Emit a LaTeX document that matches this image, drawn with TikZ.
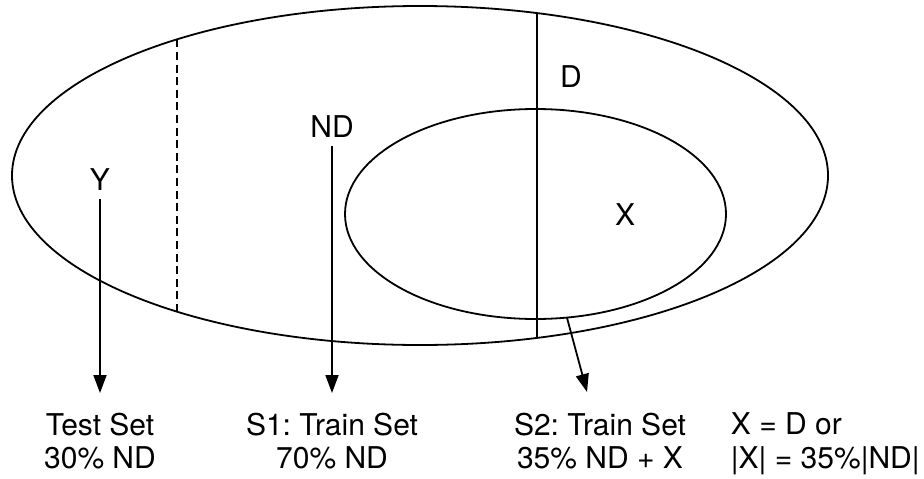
\documentclass[tikz,border=0pt]{standalone}
\usepackage{fontspec}
\setmainfont{TeX Gyre Heros}
\frenchspacing
\usetikzlibrary{arrows.meta,calc}

\begin{document}
\begin{tikzpicture}[>={Triangle[length=9pt,width=6.5pt]},x=0.5pt,y=0.5pt,line width=0.9pt,
    every node/.style={font=\fontsize{15}{16.65}\selectfont},
    setlbl/.style={inner sep=0pt,align=center,anchor=north}]
  \useasboundingbox (0,0) rectangle (924,478);
  \coordinate (U) at (420,302.5);
  \coordinate (S) at (535.5,264);
  \draw (U) ellipse (408 and 169.5);
  \draw (S) ellipse (190.5 and 105);
  % splits of the whole set
  \draw[dash pattern=on 4pt off 2.3pt] ($(U)+(126.56:408 and 169.5)$) -- ($(U)+(-126.56:408 and 169.5)$);
  \draw ($(U)+(73.33:408 and 169.5)$) -- ($(U)+(-73.33:408 and 169.5)$);

  \node (D) at (571,401) {D};
  \node (ND) at (332,351) {ND};
  \node (Y) at (100,298) {Y};
  \node (X) at (625,263) {X};

  \node[setlbl] (test) at (100,66) {Test Set\\30\% ND};
  \node[setlbl] (s1) at (332,66) {S1: Train Set\\70\% ND};
  \node[setlbl] (s2) at (600,66) {S2: Train Set\\35\% ND + X};
  \node[setlbl,anchor=north west,align=left] (note) at (730,66) {X = D or\\|X| = 35\%|ND|};

  \draw[->,shorten >=9.5pt] (Y) -- (test);
  \draw[->,shorten >=9.5pt] (ND) -- (s1);
  \coordinate (Xb) at ($(S)+(-80.5:190.5 and 105)$);
  \draw[->] (Xb) -- ($(s2.north)+(-13,20)$);
\end{tikzpicture}
\end{document}
